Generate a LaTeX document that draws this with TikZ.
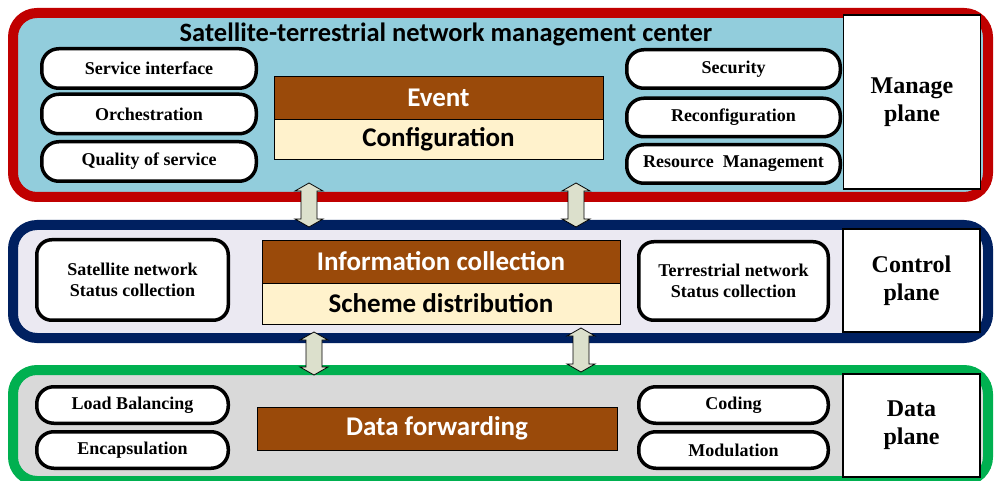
\documentclass[tikz,border=0pt]{standalone}
\usepackage{fontspec}
\setmainfont{Liberation Serif}
\newfontfamily\calibri{Carlito}
\usetikzlibrary{calc}

\definecolor{mgred}{HTML}{C00000}
\definecolor{mgfill}{HTML}{92CDDC}
\definecolor{ctnavy}{HTML}{002060}
\definecolor{ctfill}{HTML}{EBE9F2}
\definecolor{dtgreen}{HTML}{00B050}
\definecolor{dtfill}{HTML}{D9D9D9}
\definecolor{brownbar}{HTML}{9A4A0A}
\definecolor{creambar}{HTML}{FFF2CC}
\definecolor{arrowfill}{HTML}{DCE0CC}

\tikzset{
  plane/.style={draw, line width=10pt, rounded corners=24pt, inner sep=0pt, minimum width=975},
  pill/.style={draw, fill=white, line width=3.5pt, rounded corners=17pt, inner sep=0pt,
    align=center, font=\bfseries\fontsize{18}{21}\selectfont},
  planename/.style={draw, fill=white, line width=1.5pt, inner sep=0pt, align=center,
    minimum width=137, font=\bfseries\fontsize{24}{28}\selectfont},
  bar/.style={draw, line width=0.7pt, inner sep=0pt, font=\calibri\bfseries\fontsize{27}{30}\selectfont},
  darkbar/.style={bar, fill=brownbar, text=white},
  lightbar/.style={bar, fill=creambar, text=black},
  fatarrow/.style={draw=black, fill=arrowfill, line width=0.8pt,
    to path={let \p1=(\tikztostart), \p2=(\tikztotarget) in
      (\x1,\y1) -- (\x1+14pt,\y1-8pt) -- (\x1+8pt,\y1-8pt) -- (\x1+8pt,\y2+8pt)
      -- (\x1+14pt,\y2+8pt) -- (\x1,\y2) -- (\x1-14pt,\y2+8pt) -- (\x1-8pt,\y2+8pt)
      -- (\x1-8pt,\y1-8pt) -- (\x1-14pt,\y1-8pt) -- cycle}}
}

\begin{document}
\begin{tikzpicture}[x=1pt, y=-1pt]
    \useasboundingbox (0,0) rectangle (994,481);

    % Planes
    \node[plane, draw=mgred, fill=mgfill, minimum height=184] (manage) at (500.5,105) {};
    \node[plane, draw=ctnavy, fill=ctfill, minimum height=113] (control) at (500.5,281.5) {};
    \node[plane, draw=dtgreen, fill=dtfill, minimum height=111] (data) at (500.5,425.5) {};

    % Manage plane
    \node[anchor=base, font=\calibri\bfseries\fontsize{26.5}{30}\selectfont] (title) at (446,42)
        {Satellite-terrestrial network management center};
    \foreach \name/\y/\txt in {service/68.5/Service interface, orch/114/Orchestration,
                               qos/161.5/Quality of service}
        \node[pill, minimum width=214.5, minimum height=39.5] (\name) at (149,\y) {\txt};
    \foreach \name/\y/\txt in {security/69/Security, reconf/117.5/Reconfiguration,
                               resource/164/Resource\ \ Management}
        \node[pill, minimum width=213.5, minimum height=38.5] (\name) at (733.5,\y) {\txt};
    \node[darkbar, minimum width=329, minimum height=43] (event) at (438.5,97.5) {Event};
    \node[lightbar, minimum width=329, minimum height=40] (config) at (438.5,139) {Configuration};
    \node[planename, minimum height=174] (managename) at (912,102) {Manage\\plane};

    % Control plane
    \node[pill, rounded corners=15pt, minimum width=191.5, minimum height=80.5] (satstatus) at (132.5,280)
        {Satellite network\\Status collection};
    \node[darkbar, minimum width=358, minimum height=43] (info) at (441,261.5) {Information collection};
    \node[lightbar, minimum width=358, minimum height=41] (scheme) at (441,303.5) {Scheme distribution};
    \node[pill, rounded corners=15pt, minimum width=189.5, minimum height=78.5] (terstatus) at (733.5,281)
        {Terrestrial network\\Status collection};
    \node[planename, minimum height=103] (controlname) at (911.5,280.5) {Control\\plane};

    % Data plane
    \foreach \name/\y/\txt in {loadbal/405/Load Balancing, encap/450/Encapsulation}
        \node[pill, minimum width=191.5, minimum height=36.5] (\name) at (132.5,\y) {\txt};
    \foreach \name/\y/\txt in {coding/405/Coding, modul/450/Modulation}
        \node[pill, minimum width=189.5, minimum height=36.5] (\name) at (733.5,\y) {\txt};
    \node[darkbar, minimum width=360, minimum height=43] (forward) at (437,428.5) {Data forwarding};
    \node[planename, minimum height=103] (dataname) at (911.5,425.5) {Data\\plane};

    % Arrows between planes
    \coordinate (mcleft) at (309,183);
    \coordinate (cmleft) at (309,227);
    \coordinate (mcright) at (576,183);
    \coordinate (cmright) at (576,227);
    \coordinate (cdleft) at (314,332);
    \coordinate (dcleft) at (314,375);
    \coordinate (cdright) at (581,328);
    \coordinate (dcright) at (581,372);
    \draw[fatarrow] (mcleft) to (cmleft);
    \draw[fatarrow] (mcright) to (cmright);
    \draw[fatarrow] (cdleft) to (dcleft);
    \draw[fatarrow] (cdright) to (dcright);
\end{tikzpicture}
\end{document}
